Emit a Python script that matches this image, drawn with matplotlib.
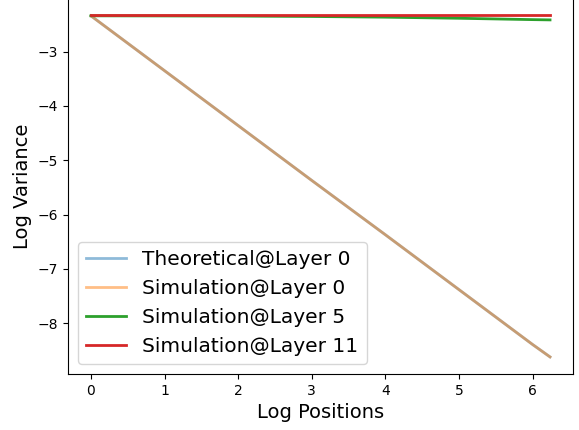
import matplotlib
matplotlib.use("Agg")
import matplotlib.pyplot as plt

# Log positions sampled along the curves
log_pos = [0.0, 1.0, 2.0, 3.0, 4.0, 5.0, 6.0, 6.238]

# Log variance values
theoretical_l0 = [-2.34, -3.35, -4.36, -5.37, -6.37, -7.38, -8.39, -8.62]
simulation_l0 = [-2.34, -3.35, -4.36, -5.37, -6.37, -7.38, -8.39, -8.62]
simulation_l5 = [-2.34, -2.342, -2.345, -2.352, -2.365, -2.385, -2.41, -2.415]
simulation_l11 = [-2.33, -2.33, -2.33, -2.33, -2.33, -2.33, -2.33, -2.33]

fig = plt.figure(figsize=(5.79, 4.30), dpi=100)
ax = fig.add_axes([0.1174, 0.1302, 0.8722, 0.874])

ax.plot(log_pos, theoretical_l0, color='tab:blue', alpha=0.5, linewidth=2, label='Theoretical@Layer 0')
ax.plot(log_pos, simulation_l0, color='tab:orange', alpha=0.5, linewidth=2, label='Simulation@Layer 0')
ax.plot(log_pos, simulation_l5, color='tab:green', linewidth=2, label='Simulation@Layer 5')
ax.plot(log_pos, simulation_l11, color='tab:red', linewidth=2, label='Simulation@Layer 11')

ax.set_xlabel('Log Positions', fontsize=14)
ax.set_ylabel('Log Variance', fontsize=14)
ax.legend(loc='lower left', fontsize=14.5)

fig.savefig('out.png', dpi=100)
